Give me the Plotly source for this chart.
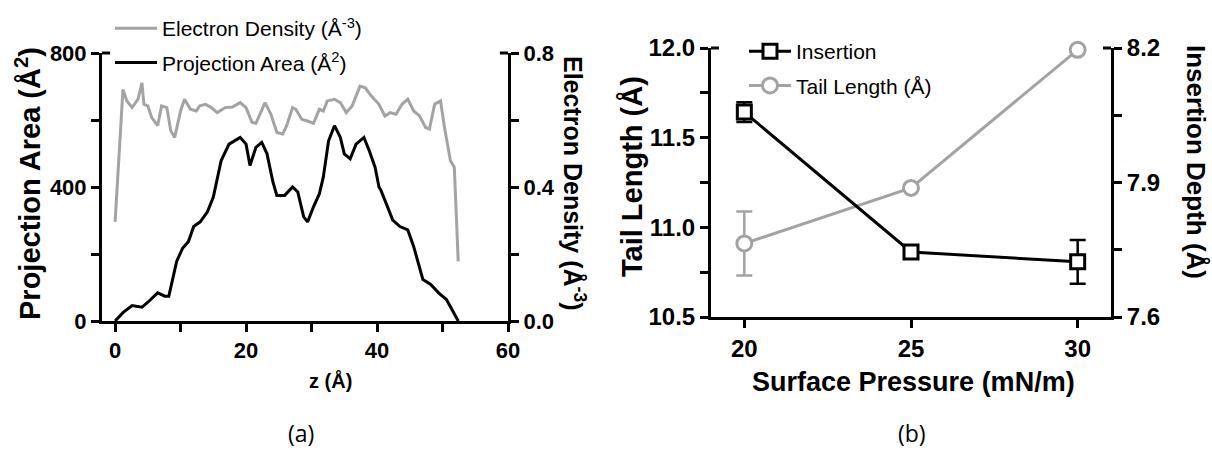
import plotly.graph_objects as go

# ---------------- Panel (a) data ----------------
pa_z = [0, 1.2, 2.6, 4.1, 5.0, 6.5, 7.6, 8.2, 9.4, 10.3, 11.2, 12.0, 13.0, 14.1, 15.0, 15.6,
        16.2, 17.4, 18.2, 19.1, 20.0, 20.6, 21.5, 22.4, 23.2, 24.1, 24.7, 25.9, 27.1, 27.9,
        28.8, 29.4, 30.3, 31.2, 31.8, 32.6, 33.5, 34.4, 35.0, 35.9, 36.8, 38.0, 38.8, 39.7,
        40.3, 40.6, 41.5, 42.4, 43.5, 44.7, 45.6, 47.0, 48.2, 49.4, 50.6, 51.5, 52.4]
pa_val = [0, 25, 46, 41, 56, 84, 74, 74, 178, 217, 237, 282, 296, 326, 370, 420,
          479, 528, 538, 548, 528, 464, 518, 533, 499, 415, 375, 375, 400, 385,
          311, 296, 341, 380, 430, 538, 583, 548, 499, 484, 528, 548, 509, 459,
          400, 390, 346, 301, 282, 272, 222, 124, 109, 84, 64, 30, 0]

ed_z = [0, 0.6, 1.2, 1.8, 2.6, 3.5, 4.1, 4.4, 5.0, 5.6, 6.5, 7.1, 7.9, 8.5, 9.1, 10.0, 10.6,
        11.5, 12.4, 12.9, 13.8, 14.7, 15.6, 16.8, 17.9, 19.1, 20.0, 20.9, 21.5, 22.9, 23.8,
        24.7, 25.6, 26.2, 27.1, 27.6, 28.5, 29.4, 30.3, 31.2, 31.8, 32.4, 33.5, 34.4, 35.3,
        36.2, 36.8, 37.4, 38.2, 39.1, 40.3, 41.2, 42.0, 42.9, 43.8, 44.7, 45.6, 46.5, 47.4,
        48.0, 48.8, 49.7, 50.3, 51.2, 51.8, 52.4]
ed_val = [0.296, 0.50, 0.691, 0.657, 0.637, 0.662, 0.711, 0.647, 0.642, 0.607, 0.583, 0.642,
          0.637, 0.568, 0.548, 0.627, 0.662, 0.632, 0.627, 0.642, 0.647, 0.637, 0.622, 0.637,
          0.639, 0.652, 0.637, 0.593, 0.590, 0.652, 0.617, 0.563, 0.558, 0.583, 0.637, 0.632,
          0.602, 0.597, 0.590, 0.632, 0.627, 0.657, 0.662, 0.652, 0.622, 0.642, 0.672, 0.701,
          0.696, 0.672, 0.647, 0.612, 0.622, 0.617, 0.647, 0.662, 0.627, 0.612, 0.578, 0.573,
          0.647, 0.657, 0.578, 0.479, 0.459, 0.178]

# ---------------- Panel (b) data ----------------
pressure = [20, 25, 30]
insertion = [8.057, 7.745, 7.723]
insertion_err = [0.022, 0.006, 0.049]
tail_length = [10.91, 11.22, 11.99]
tail_err = [0.178, 0.0, 0.0]

GREY = "#A3A3A3"
FONT = "Liberation Sans"

fig = go.Figure()

fig.add_trace(go.Scatter(x=ed_z, y=ed_val, mode="lines", name="Electron Density (Å<sup>-3</sup>)",
                         line=dict(color=GREY, width=3), xaxis="x", yaxis="y2",
                         legend="legend", legendgroup="a1", legendrank=1))
fig.add_trace(go.Scatter(x=pa_z, y=pa_val, mode="lines", name="Projection Area (Å<sup>2</sup>)",
                         line=dict(color="black", width=3), xaxis="x", yaxis="y",
                         legend="legend", legendgroup="a2", legendrank=2))

fig.add_trace(go.Scatter(x=pressure, y=tail_length, mode="lines+markers", name="Tail Length (Å)",
                         line=dict(color=GREY, width=3), cliponaxis=False,
                         marker=dict(symbol="circle", size=15, color="white",
                                     line=dict(color=GREY, width=3)),
                         error_y=dict(type="data", array=tail_err, color=GREY, thickness=2.5, width=8),
                         xaxis="x2", yaxis="y3", legend="legend2", legendgroup="b2", legendrank=2))
fig.add_trace(go.Scatter(x=pressure, y=insertion, mode="lines+markers", name="Insertion",
                         line=dict(color="black", width=3), cliponaxis=False,
                         marker=dict(symbol="square", size=14, color="white",
                                     line=dict(color="black", width=3)),
                         error_y=dict(type="data", array=insertion_err, color="black", thickness=2.5, width=8),
                         xaxis="x2", yaxis="y4", legend="legend2", legendgroup="b1", legendrank=1))

tf_a = dict(family=FONT, size=22, color="black", weight="bold")
tf_b = dict(family=FONT, size=24, color="black", weight="bold")
common = dict(showline=True, linecolor="black", linewidth=3, ticks="outside", ticklen=8,
              tickwidth=3, tickcolor="black", showgrid=False, zeroline=False, automargin=False)
def minor(vals):
    return dict(tickvals=vals, ticks="outside", ticklen=8, tickwidth=3, tickcolor="black")

W, H = 1212, 450
def px(xp):
    return xp / W
def py(yp):
    return 1 - yp / H

fig.update_layout(
    width=W, height=H, margin=dict(l=0, r=0, t=0, b=0, autoexpand=False),
    paper_bgcolor="white", plot_bgcolor="white",
    xaxis=dict(domain=[px(102), px(508)], range=[-2, 60], anchor="y",
               tickvals=[0, 20, 40, 60], minor=minor([10, 30, 50]), tickfont=tf_a, **common),
    yaxis=dict(domain=[py(321), py(53)], range=[0, 800], anchor="x",
               tickvals=[0, 400, 800], minor=minor([200, 600]), tickfont=tf_a, **common),
    yaxis2=dict(overlaying="y", side="right", anchor="x", range=[0, 0.8],
                tickvals=[0, 0.4, 0.8], tickformat=".1f", minor=minor([0.2, 0.6]),
                tickfont=tf_a, **common),
    xaxis2=dict(domain=[px(711), px(1111)], range=[19, 31], anchor="y3",
                tickvals=[20, 25, 30], tickfont=tf_b, **common),
    yaxis3=dict(domain=[py(317), py(48)], range=[10.5, 12], anchor="x2",
                tickvals=[10.5, 11, 11.5, 12], tickformat=".1f",
                minor=minor([10.75, 11.25, 11.75]), tickfont=tf_b, **common),
    yaxis4=dict(overlaying="y3", side="right", anchor="x2", range=[7.6, 8.2],
                tickvals=[7.6, 7.9, 8.2], tickformat=".1f", minor=minor([7.75, 8.05]),
                tickfont=tf_b, **common),
    legend=dict(xref="container", yref="container", x=px(110), y=py(8),
                xanchor="left", yanchor="top", bgcolor="rgba(0,0,0,0)",
                font=dict(family=FONT, size=21, color="black"), tracegroupgap=4,
                traceorder="grouped", itemwidth=42),
    legend2=dict(xref="container", yref="container", x=px(744), y=py(31),
                 xanchor="left", yanchor="top", bgcolor="rgba(0,0,0,0)",
                 font=dict(family=FONT, size=21, color="black"), tracegroupgap=4,
                 traceorder="grouped", itemwidth=42),
)

# short inward stubs at the top end of each vertical axis (GraphPad-style frame ends)
stub = dict(type="line", line=dict(color="black", width=3), y0=1, y1=1)
fig.update_layout(shapes=[
    dict(stub, xref="x domain", yref="y domain", x0=0, x1=0.02),
    dict(stub, xref="x domain", yref="y domain", x0=0.98, x1=1),
    dict(stub, xref="x2 domain", yref="y3 domain", x0=0, x1=0.02),
    dict(stub, xref="x2 domain", yref="y3 domain", x0=0.98, x1=1),
])

ann = [
    dict(text="<b>Projection Area (Å<sup>2</sup>)</b>", x=px(28), y=py(184), textangle=-90,
         font=dict(family=FONT, size=29, color="black")),
    dict(text="<b>Electron Density (Å<sup>-3</sup>)</b>", x=px(574), y=py(183), textangle=90,
         font=dict(family=FONT, size=25, color="black")),
    dict(text="<b>z (Å)</b>", x=px(330), y=py(380), font=dict(family=FONT, size=20, color="black")),
    dict(text="<b>Tail Length (Å)</b>", x=px(632), y=py(177), textangle=-90,
         font=dict(family=FONT, size=29, color="black")),
    dict(text="<b>Insertion Depth (Å)</b>", x=px(1196), y=py(162), textangle=90,
         font=dict(family=FONT, size=26, color="black")),
    dict(text="<b>Surface Pressure (mN/m)</b>", x=px(913), y=py(382),
         font=dict(family=FONT, size=27, color="black")),
    dict(text="(a)", x=px(301), y=py(433), font=dict(family="Open Sans", size=23, color="black")),
    dict(text="(b)", x=px(912), y=py(433), font=dict(family="Open Sans", size=23, color="black")),
]
for a in ann:
    a.update(xref="paper", yref="paper", showarrow=False, xanchor="center", yanchor="middle")
fig.update_layout(annotations=ann)

fig.write_html("out.html")
